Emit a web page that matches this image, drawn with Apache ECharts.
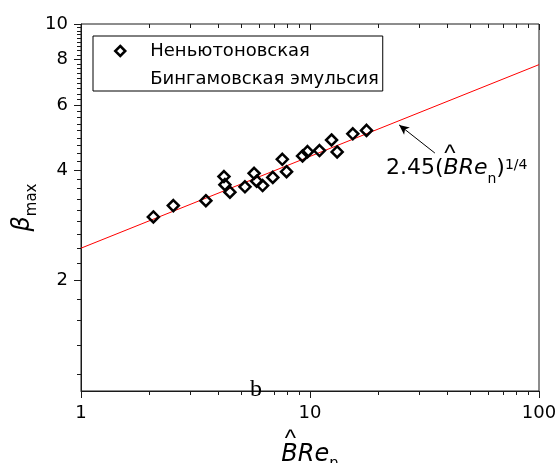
<!DOCTYPE html>
<html><head><meta charset="utf-8">
<script src="https://cdn.jsdelivr.net/npm/echarts@6/dist/echarts.min.js"></script>
<style>html,body{margin:0;padding:0;background:#fff}#c{width:559px;height:463px}</style>
</head><body><div id="c"></div>
<script>
// ---- data ----
const xData = [2.07, 2.53, 3.51, 4.21, 4.25, 4.47, 5.20, 5.70, 5.85, 6.21, 6.88, 7.57, 7.90, 9.28, 9.75, 11.0, 12.42, 13.14, 15.38, 17.65];
const yData = [2.98, 3.20, 3.30, 3.84, 3.65, 3.48, 3.60, 3.92, 3.73, 3.63, 3.82, 4.28, 3.96, 4.37, 4.49, 4.52, 4.83, 4.48, 5.02, 5.13];
const fitX = [1, 100];
const fitY = [2.45, 7.75];
const xTickLabels = [1, 10, 100];
const xMinorTicks = [2, 3, 4, 5, 6, 7, 8, 9, 20, 30, 40, 50, 60, 70, 80, 90];
const yTickLabels = [2, 4, 6, 8, 10];
const yMinorTicks = [];
for (let k = 5; k <= 44; k++) { if (k % 9 !== 0) yMinorTicks.push(k * 2 / 9); }
const legendNames = ['Неньютоновская', 'Бингамовская эмульсия'];
const arrowFrom = [35.1, 4.45];
const arrowTo = [24.5, 5.31];
const xMin = 1, xMax = 100, yMin = 1, yMax = 10;

const AX = '#1a1a1a';
const FONT = 'DejaVu Sans';

// tick marks: [x, y, length, direction]  0 = downwards, 1 = leftwards
const tickData = []
  .concat(xTickLabels.map(v => [v, yMin, 7, 0]))
  .concat(xMinorTicks.map(v => [v, yMin, 4, 0]))
  .concat(xTickLabels.map(v => [v, yMax, 6, 0]))
  .concat(xMinorTicks.map(v => [v, yMax, 4, 0]))
  .concat(yTickLabels.map(v => [xMin, v, 7, 1]))
  .concat(yMinorTicks.map(v => [xMin, v, 4, 1]));

const chart = echarts.init(document.getElementById('c'));
chart.setOption({
  animation: false,
  backgroundColor: '#fff',
  grid: { left: 81, right: 20, top: 24, bottom: 72, show: true, borderColor: AX, borderWidth: 1, outerBoundsMode: 'none' },
  legend: {
    orient: 'vertical', left: 93, top: 36,
    data: [
      { name: legendNames[0], icon: 'diamond', itemStyle: { color: 'rgba(0,0,0,0)', borderColor: '#000', borderWidth: 2.5 } },
      { name: legendNames[1], icon: 'none' }
    ],
    itemWidth: 10, itemHeight: 10, itemGap: 6, padding: [4, 4, 1, 21],
    borderColor: '#000', borderWidth: 1, backgroundColor: '#fff',
    textStyle: { fontFamily: FONT, fontSize: 18, color: '#000', lineHeight: 22, padding: [0, 0, 0, 20] },
    selectedMode: false
  },
  xAxis: {
    type: 'log', logBase: 10, min: xMin, max: xMax,
    axisLine: { show: true, lineStyle: { color: AX, width: 1 } },
    axisTick: { show: false }, splitLine: { show: false }, minorTick: { show: false },
    axisLabel: { fontFamily: FONT, fontSize: 18, color: '#000', margin: 13 },
    name: '{h|^}\n{i|BRe}{s|n}', nameLocation: 'middle', nameGap: 45,
    nameTextStyle: {
      color: '#000',
      rich: {
        h: { fontFamily: 'Liberation Sans', fontSize: 24, lineHeight: 4, padding: [0, 39, 0, 0], color: '#000' },
        i: { fontFamily: FONT, fontStyle: 'italic', fontSize: 24, lineHeight: 28, color: '#000' },
        s: { fontFamily: FONT, fontSize: 15, lineHeight: 28, verticalAlign: 'top', padding: [16, 0, 0, 0], color: '#000' }
      }
    }
  },
  yAxis: {
    type: 'log', logBase: 10, min: yMin, max: yMax,
    axisLine: { show: true, lineStyle: { color: AX, width: 1 } },
    axisTick: { show: false }, axisLabel: { show: false }, splitLine: { show: false }, minorTick: { show: false },
    name: '{b|β}{s|max}', nameLocation: 'middle', nameGap: 46, nameRotate: 90,
    nameTextStyle: {
      color: '#000',
      rich: {
        b: { fontFamily: FONT, fontStyle: 'italic', fontSize: 24, lineHeight: 24, color: '#000' },
        s: { fontFamily: FONT, fontSize: 15, lineHeight: 24, verticalAlign: 'top', padding: [14, 0, 0, 0], color: '#000' }
      }
    }
  },
  series: [
    {
      name: legendNames[0], type: 'scatter', data: xData.map((x, i) => [x, yData[i]]),
      symbol: 'diamond', symbolSize: 11, z: 4,
      itemStyle: { color: 'rgba(0,0,0,0)', borderColor: '#000', borderWidth: 2.5, opacity: 1 }
    },
    { name: legendNames[1], type: 'scatter', data: [] },
    {
      name: 'fit', type: 'line', data: fitX.map((x, i) => [x, fitY[i]]), symbol: 'none', z: 3,
      lineStyle: { color: '#ff0000', width: 1 },
      markLine: {
        silent: true, symbol: ['none', 'arrow'], symbolSize: [7, 10],
        lineStyle: { color: '#000', width: 1, type: 'solid' }, label: { show: false },
        data: [[{ coord: arrowFrom }, { coord: arrowTo }]]
      }
    },
    {
      type: 'custom', clip: false, data: tickData,
      renderItem: function (params, api) {
        const p = api.coord([api.value(0), api.value(1)]);
        const len = api.value(2);
        if (api.value(3) === 0) {
          return { type: 'rect', shape: { x: Math.floor(p[0]), y: Math.round(p[1]), width: 1, height: len }, style: { fill: AX } };
        }
        return { type: 'rect', shape: { x: Math.round(p[0]) - len, y: Math.floor(p[1]), width: len, height: 1 }, style: { fill: AX } };
      }
    },
    {
      type: 'custom', clip: false,
      data: yTickLabels.map(v => [xMin, v]),
      renderItem: function (params, api) {
        const p = api.coord([api.value(0), api.value(1)]);
        return { type: 'text', x: p[0] - 13, y: p[1], style: { text: String(api.value(1)), font: '18px "' + FONT + '"', fill: '#000', align: 'right', verticalAlign: 'middle' } };
      }
    }
  ],
  graphic: [
    { type: 'text', x: 256, y: 390, z: 10, style: { text: 'b', font: '24px "Liberation Serif"', fill: '#000', align: 'center', verticalAlign: 'middle' } },
    { type: 'text', x: 450, y: 154, z: 10, style: { text: '^', font: '24px "Liberation Sans"', fill: '#000', align: 'center', verticalAlign: 'middle' } },
    {
      type: 'text', x: 386, y: 150, z: 10,
      style: {
        text: '{a|2.45(}{i|BRe}{s|n}{a|)}{p|1/4}', align: 'left', verticalAlign: 'top', fill: '#000',
        rich: {
          a: { fontFamily: FONT, fontSize: 22, lineHeight: 36, fill: '#000' },
          i: { fontFamily: FONT, fontStyle: 'italic', fontSize: 22, lineHeight: 36, fill: '#000' },
          s: { fontFamily: FONT, fontSize: 14, lineHeight: 20, verticalAlign: 'bottom', fill: '#000' },
          p: { fontFamily: FONT, fontSize: 14, lineHeight: 22, verticalAlign: 'top', padding: [8, 0, 0, 0], fill: '#000' }
        }
      }
    }
  ]
});
</script>
</body></html>
